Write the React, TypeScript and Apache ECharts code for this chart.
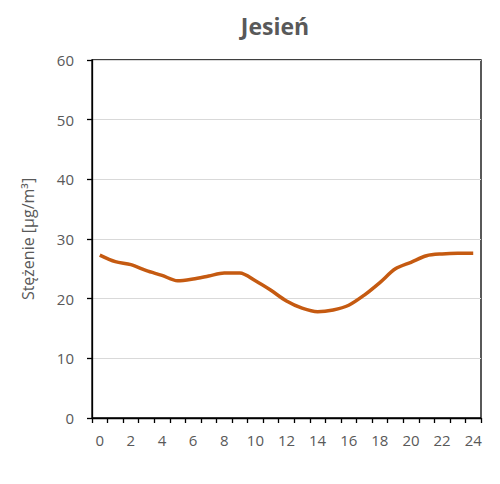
import React, { useEffect, useRef } from "react";
import * as echarts from "echarts";

const hours = ["0","1","2","3","4","5","6","7","8","9","10","11","12","13","14","15","16","17","18","19","20","21","22","23","24"];
const concentration = [27.3, 26.2, 25.7, 24.7, 23.9, 23.0, 23.3, 23.8, 24.3, 24.3, 23.0, 21.4, 19.6, 18.4, 17.8, 18.1, 18.9, 20.6, 22.7, 25.0, 26.1, 27.2, 27.5, 27.6, 27.6];
const yTicks = { min: 0, max: 60, interval: 10 };
const titleText = "Jesień";
const yName = "Stężenie [µg/m³]";

export default function App() {
  const ref = useRef<HTMLDivElement>(null);
  useEffect(() => {
    if (!ref.current) return;
    const chart = echarts.init(ref.current, null, { renderer: "svg" });
    const font = "'Open Sans', 'Noto Sans', sans-serif";
    chart.setOption({
      animation: false,
      backgroundColor: "#ffffff",
      title: {
        text: titleText,
        left: 270,
        top: 9,
        textAlign: "center",
        textStyle: { fontFamily: font, fontSize: 23, fontWeight: "bold", color: "#595959" },
      },
      grid: {
        left: 92,
        right: 19,
        top: 60,
        bottom: 66,
        show: true,
        borderColor: "#000000",
        borderWidth: 1.3,
      },
      xAxis: {
        type: "category",
        data: hours,
        boundaryGap: true,
        axisLine: { show: true, lineStyle: { color: "#000000", width: 1.3 } },
        axisTick: { show: true, interval: 0, inside: false, length: 5, lineStyle: { color: "#000000", width: 1.3 } },
        axisLabel: { interval: 1, margin: 14, color: "#595959", fontSize: 15, fontFamily: font },
        splitLine: { show: false },
      },
      yAxis: {
        type: "value",
        min: yTicks.min,
        max: yTicks.max,
        interval: yTicks.interval,
        name: yName,
        nameLocation: "middle",
        nameGap: 56,
        nameRotate: 90,
        nameTextStyle: { fontFamily: font, fontSize: 16, color: "#595959" },
        axisLine: { show: true, lineStyle: { color: "#000000", width: 1.3 } },
        axisTick: { show: true, inside: false, length: 5, lineStyle: { color: "#000000", width: 1.3 } },
        axisLabel: { margin: 18, color: "#595959", fontSize: 15, fontFamily: font },
        splitLine: { show: true, lineStyle: { color: "#d9d9d9", width: 1 } },
      },
      series: [
        {
          type: "line",
          data: concentration,
          symbol: "none",
          smooth: 0.3,
          lineStyle: { color: "#C55A11", width: 3.5 },
        },
      ],
    });
    return () => chart.dispose();
  }, []);
  return <div ref={ref} style={{ position: "absolute", left: 0, top: 0, width: 500, height: 484 }} />;
}
